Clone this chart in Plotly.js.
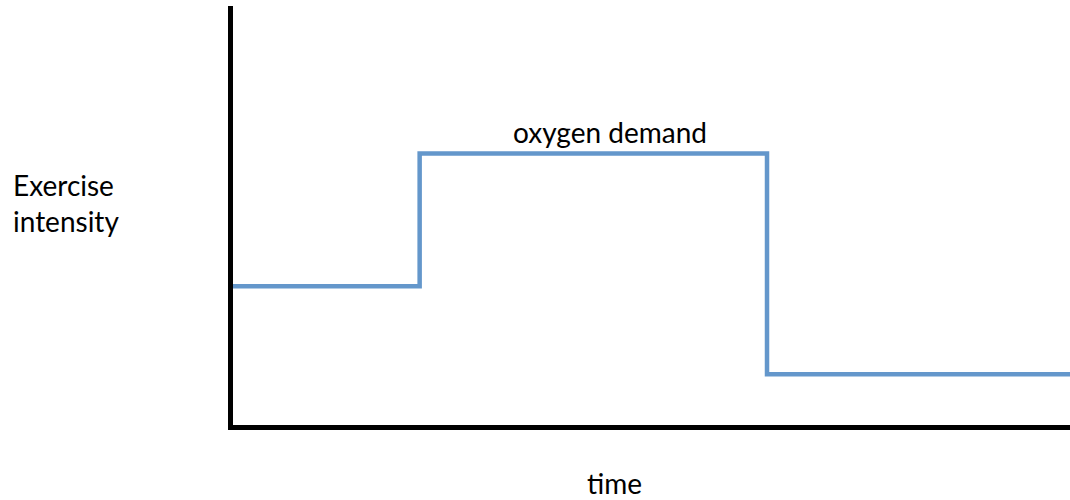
<!DOCTYPE html>
<html>
<head>
<meta charset="utf-8">
<script src="https://cdn.plot.ly/plotly-3.0.1.min.js"></script>
<style>html,body{margin:0;padding:0;background:#fff;}#chart{width:1070px;height:500px;}</style>
</head>
<body>
<div id="chart"></div>
<script>
// Schematic data (arbitrary units)
var timePoints = [0, 2.23, 2.23, 6.38, 6.38, 10];
var oxygenDemand = [3.31, 3.31, 6.48, 6.48, 1.21, 1.21];
var seriesLabel = 'oxygen demand';
var xLabel = 'time';
var yLabel = 'Exercise<br>intensity';

var FONT = 'Lato, "Open Sans", sans-serif';

var trace = {
  x: timePoints,
  y: oxygenDemand,
  type: 'scatter',
  mode: 'lines',
  line: {color: '#6497CB', width: 4.5, shape: 'linear'},
  hoverinfo: 'skip',
  showlegend: false
};

var layout = {
  width: 1070,
  height: 500,
  margin: {l: 233, r: 0, t: 6, b: 75, pad: 0},
  paper_bgcolor: '#ffffff',
  plot_bgcolor: '#ffffff',
  showlegend: false,
  xaxis: {
    range: [0, 10],
    showline: true, linecolor: '#000000', linewidth: 5,
    showgrid: false, zeroline: false, showticklabels: false, ticks: '',
    fixedrange: true
  },
  yaxis: {
    range: [0, 10],
    showline: true, linecolor: '#000000', linewidth: 5,
    showgrid: false, zeroline: false, showticklabels: false, ticks: '',
    fixedrange: true
  },
  annotations: [
    {
      text: seriesLabel, x: 4.5, y: 6.48, xref: 'x', yref: 'y',
      xanchor: 'center', yanchor: 'bottom', yshift: 2, showarrow: false,
      font: {family: FONT, size: 28, color: '#000000'}
    },
    {
      text: xLabel, x: (614 - 233) / 837, y: -0.092, xref: 'paper', yref: 'paper',
      xanchor: 'center', yanchor: 'top', showarrow: false,
      font: {family: FONT, size: 28, color: '#000000'}
    },
    {
      text: yLabel, x: (11 - 233) / 837, y: 0.53, xref: 'paper', yref: 'paper',
      xanchor: 'left', yanchor: 'middle', align: 'left', showarrow: false,
      font: {family: FONT, size: 28, color: '#000000'}
    }
  ]
};

Plotly.newPlot('chart', [trace], layout, {staticPlot: true, displayModeBar: false});
</script>
</body>
</html>
